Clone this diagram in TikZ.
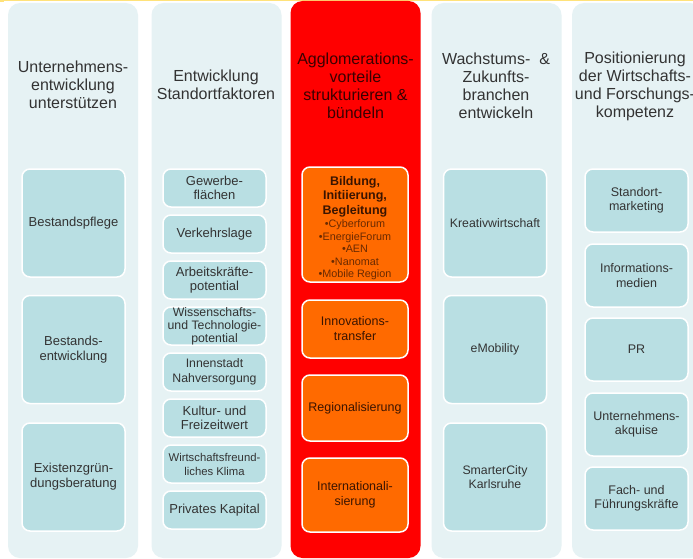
\documentclass[tikz,border=0pt]{standalone}
\usepackage{fontspec}
\setmainfont{Liberation Sans}
\definecolor{colbg}{HTML}{E6F2F4}
\definecolor{boxbg}{HTML}{B9DFE3}
\definecolor{redcol}{HTML}{FF0000}
\definecolor{orangebox}{HTML}{FF6A00}
\definecolor{txt}{HTML}{333333}
\definecolor{redtxt}{HTML}{3A0000}
\definecolor{otxt}{HTML}{3A1400}
\definecolor{obullet}{HTML}{6A2A00}
\definecolor{topline}{HTML}{FFE27A}
\newcommand\obul[1]{{\mdseries\fontsize{10.8}{12.5}\selectfont\color{obullet}•#1}}
\begin{document}
\begin{tikzpicture}[x=1pt,y=-1pt,
  column/.style={rounded corners=12pt, fill=colbg, draw=none, inner sep=0pt,
    minimum width=130pt, minimum height=555pt},
  redcolumn/.style={column, fill=redcol, minimum height=557pt},
  head/.style={text=txt, align=center, font=\fontsize{16}{18}\selectfont, inner sep=0pt},
  redhead/.style={head, text=redtxt},
  tbox/.style={rounded corners=8pt, fill=boxbg, draw=white, line width=1.5pt,
    inner sep=0pt, minimum width=103pt, text=txt, align=center},
  bigbox/.style={tbox, minimum height=108pt, font=\fontsize{13}{15}\selectfont},
  smallbox/.style={tbox, minimum height=38pt, font=\fontsize{13}{14.5}\selectfont},
  midbox/.style={tbox, minimum height=63pt, font=\fontsize{12.5}{14.5}\selectfont},
  obox/.style={tbox, fill=orangebox, minimum width=106pt, text=otxt,
    font=\fontsize{12.5}{15}\selectfont}
]
\useasboundingbox (0,0) rectangle (693,559);
\clip (0,0) rectangle (693,559);
\fill[white] (0,0) rectangle (693,559);
\fill[topline] (0,0) rectangle (693,1.3);
\fill[topline] (0,0) rectangle (4,2);

% columns
\node[column] (c1) at (73,280.5) {};
\node[column] (c2) at (216.5,280.5) {};
\node[redcolumn] (c3) at (355.5,279.5) {};
\node[column] (c4) at (496.5,280.5) {};
\node[column] (c5) at (637,280.5) {};

% headers
\node[head] (h1) at (73,85) {Unternehmens-\\entwicklung\\unterstützen};
\node[head] (h2) at (216,85) {Entwicklung\\Standortfaktoren};
\node[redhead] (h3) at (355.5,86) {Agglomerations-\\vorteile\\strukturieren \&\\bündeln};
\node[head] (h4) at (496,86) {Wachstums-\ \ \&\\Zukunfts-\\branchen\\entwickeln};
\node[head] (h5) at (635,86) {Positionierung\\der Wirtschafts-\\und Forschungs-\\kompetenz};

% column 1
\node[bigbox] (a1) at (73.5,223) {Bestandspflege};
\node[bigbox] (a2) at (73.5,349.5) {Bestands-\\entwicklung};
\node[bigbox] (a3) at (73.5,477) {Existenzgrün-\\dungsberatung};

% column 2
\node[smallbox] (b1) at (214.5,188) {Gewerbe-\\flächen};
\node[smallbox] (b2) at (214.5,234) {Verkehrslage};
\node[smallbox] (b3) at (214.5,280) {Arbeitskräfte-\\potential};
\node[smallbox, font=\fontsize{12.3}{13}\selectfont] (b4) at (214.5,326) {Wissenschafts-\\und Technologie-\\potential};
\node[smallbox, font=\fontsize{12.3}{14.5}\selectfont] (b5) at (214.5,372) {Innenstadt\\Nahversorgung};
\node[smallbox] (b6) at (214.5,418) {Kultur- und\\Freizeitwert};
\node[smallbox, font=\fontsize{11.3}{14}\selectfont] (b7) at (214.5,464) {Wirtschaftsfreund-\\liches Klima};
\node[smallbox] (b8) at (214.5,510) {Privates Kapital};

% column 3
\node[obox, minimum height=115pt, font=\fontsize{12.5}{13.5}\selectfont\bfseries] (o1) at (355,224.5) {};
\node[text=otxt, align=center, inner sep=0pt, font=\fontsize{12.5}{13.5}\selectfont\bfseries] (o1t) at (355,228)
  {Bildung,\\[1pt]Initiierung,\\[1pt]Begleitung\\\obul{Cyberforum}\\[-1pt]\obul{EnergieForum}\\[-1pt]\obul{AEN}\\[-1pt]\obul{Nanomat}\\[-1pt]\obul{Mobile Region}};
\node[obox, minimum height=58pt] (o2) at (355,329) {Innovations-\\transfer};
\node[obox, minimum height=66pt] (o3) at (355,408) {Regionalisierung};
\node[obox, minimum height=74pt] (o4) at (355,495) {Internationali-\\sierung};

% column 4
\node[bigbox, font=\fontsize{12.3}{14}\selectfont] (d1) at (495,223) {Kreativwirtschaft};
\node[bigbox, font=\fontsize{12.3}{14}\selectfont] (d2) at (495,349.5) {eMobility};
\node[bigbox, font=\fontsize{12.3}{14}\selectfont] (d3) at (495,477) {SmarterCity\\Karlsruhe};

% column 5
\node[midbox] (e1) at (636.5,200.5) {Standort-\\marketing};
\node[midbox] (e2) at (636.5,275.5) {Informations-\\medien};
\node[midbox] (e3) at (636.5,349.5) {PR};
\node[midbox] (e4) at (636.5,424.5) {Unternehmens-\\akquise};
\node[midbox] (e5) at (636.5,498.5) {Fach- und\\Führungskräfte};
\end{tikzpicture}
\end{document}
